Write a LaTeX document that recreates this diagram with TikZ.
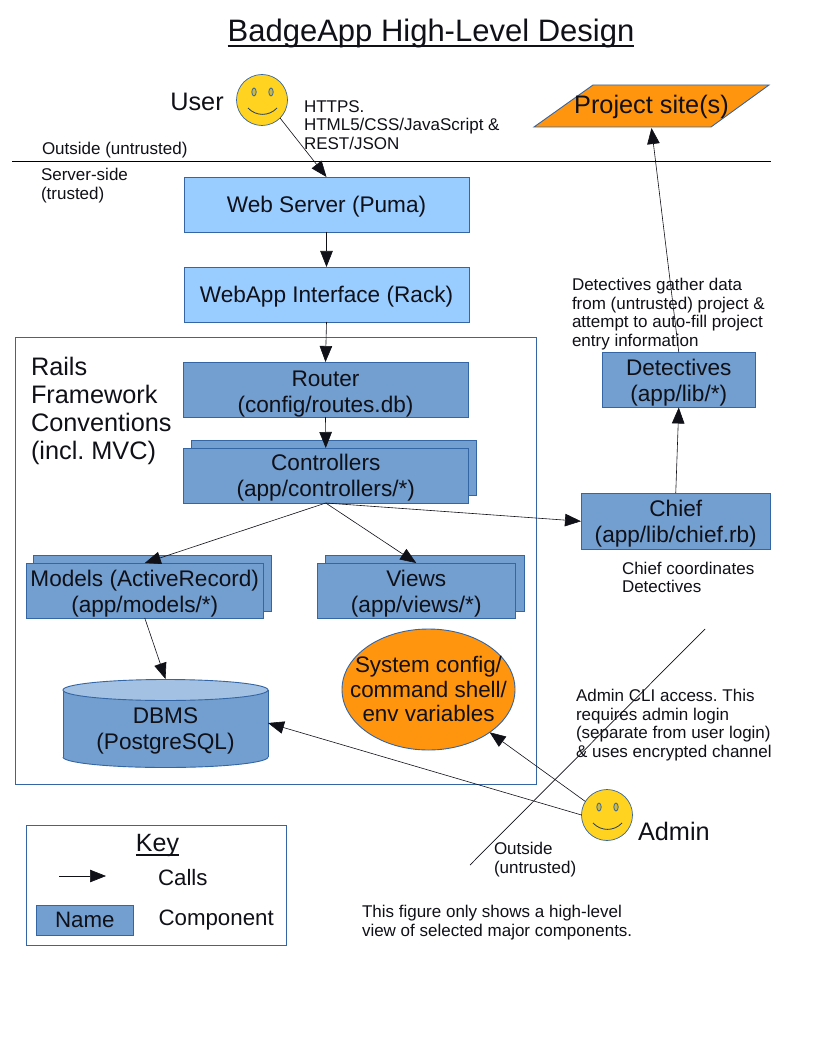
\documentclass[tikz,border=0pt]{standalone}
\usepackage{fontspec}
\setmainfont{Liberation Sans}
\usetikzlibrary{arrows.meta,shapes.geometric}
\definecolor{bd}{HTML}{3465A4}
\definecolor{lb}{HTML}{99CCFF}
\definecolor{mb}{HTML}{729FCF}
\definecolor{cyltop}{HTML}{A3C1E3}
\definecolor{og}{HTML}{FF950E}
\definecolor{yl}{HTML}{FFD320}
\definecolor{ink}{HTML}{101018}
\newcommand{\fsz}[1]{\fontsize{#1}{#1}\selectfont}
\newcommand{\myunder}[3]{\setbox0=\hbox{#1}\rlap{\rule[-#2]{\wd0}{#3}}\box0}
\frenchspacing
\tikzset{
  x=1pt,y=-1pt,
  every node/.style={text=ink,inner sep=0pt,outer sep=0pt},
  bigtext/.style={font=\fontsize{22.6}{26}\selectfont\frenchspacing,align=center},
  lefttext/.style={font=\fontsize{25.3}{28}\selectfont\frenchspacing,align=left,anchor=west},
  smalltext/.style={font=\fontsize{17}{18.7}\selectfont\frenchspacing,align=left,anchor=west},
  lowered/.style={execute at begin node={\rule{0pt}{#1}}},
  boxa/.style={draw=bd,fill=lb,line width=0.9pt,rectangle,bigtext,anchor=north west,lowered=21.5pt},
  boxb/.style={draw=bd,fill=mb,line width=0.9pt,rectangle,bigtext,anchor=north west},
  smiley/.style={circle,draw=bd,fill=yl,line width=0.7pt,minimum size=51pt},
  call/.style={draw=ink,line width=0.6pt,-{Triangle[length=16pt,width=12.5pt]}},
  thin line/.style={draw=ink,line width=0.7pt},
}
\begin{document}
\begin{tikzpicture}
\useasboundingbox[fill=white] (0,0) rectangle (816,1056);

\node[font=\fsz{31},anchor=base] (title) at (431,42) {\myunder{BadgeApp High-Level Design}{5.3pt}{2pt}};

% outer frames
\node[draw=bd,line width=0.9pt,minimum width=521.5pt,minimum height=447.5pt,anchor=north west] (rails) at (15,337) {};
\node[draw=bd,line width=0.9pt,minimum width=260.5pt,minimum height=120.5pt,anchor=north west] (keybox) at (26,825) {};
\coordinate (sepL) at (12,161);
\coordinate (sepR) at (771,161);
\draw[line width=0.8pt,black] (sepL) -- (sepR);
\coordinate (divA) at (705,629);
\coordinate (divB) at (470,865);
\draw[thin line] (divA) -- (divB);

% user
\node[smiley] (user) at (262,100) {};
\draw[bd,line width=0.8pt,fill=yl!75!bd] (254,92) ellipse (2.2 and 4);
\draw[bd,line width=0.8pt,fill=yl!75!bd] (271,92) ellipse (2.2 and 4);
\draw[bd!60!black,line width=0.8pt] (248,108) .. controls (256,116.5) and (269,116.5) .. (277,108);
\node[font=\fsz{25.3}] (userlabel) at (197,102) {User};
\node[smalltext] (https) at (304,125) {HTTPS.\\HTML5/CSS/JavaScript \&\\REST/JSON};

% project
\fill[og] (593,85) -- (769,85) -- (711,127) -- (534,127) -- cycle;
\draw[bd,line width=0.9pt,line join=miter] (593,85) -- (769,85) -- (711,127) -- (534,127) -- cycle;
\node[minimum width=176pt,minimum height=42pt,font=\fsz{25.3}] (project) at (651.5,107) {Project site(s)};

\node[smalltext] (outside) at (42,150) {Outside (untrusted)};
\node[smalltext] (server) at (41,185.5) {Server-side\\(trusted)};

% components
\node[boxa,minimum width=285pt,minimum height=55pt] (web) at (184,177) {Web Server (Puma)};
\node[boxa,minimum width=285pt,minimum height=55pt] (rack) at (184,267) {WebApp Interface (Rack)};
\node[boxb,lowered=50pt,minimum width=285pt,minimum height=55pt] (router) at (183,362) {Router\\(config/routes.db)};
\node[lefttext] (railslabel) at (31,411) {Rails\\Framework\\Conventions\\(incl. MVC)};

\node[boxb,minimum width=285.5pt,minimum height=55pt] (ctrlback) at (191,440) {};
\node[boxb,lowered=46pt,minimum width=285.5pt,minimum height=55pt] (ctrl) at (183,448) {Controllers\\(app/controllers/*)};
\node[boxb,minimum width=238.5pt,minimum height=56pt] (modelback) at (33,555) {};
\node[boxb,lowered=48pt,minimum width=237.5pt,minimum height=55pt] (models) at (26,563) {Models (ActiveRecord)\\(app/models/*)};
\node[boxb,minimum width=199pt,minimum height=56pt] (viewback) at (325,555) {};
\node[boxb,lowered=48pt,minimum width=198.5pt,minimum height=55pt] (views) at (317,563) {Views\\(app/views/*)};

% database
\fill[mb] (63,690) -- (63,757) arc[start angle=180,end angle=360,x radius=102.5,y radius=-10.5] -- (268,690) -- cycle;
\draw[bd,line width=0.9pt] (63,757) -- (63,690);
\draw[bd,line width=0.9pt] (268,690) -- (268,757);
\draw[bd,line width=0.9pt] (63,757) arc[start angle=180,end angle=360,x radius=102.5,y radius=-10.5];
\draw[bd,line width=0.9pt,fill=cyltop] (165.5,690) ellipse (102.5 and 10.5);
\node[bigtext,lowered=57pt,minimum width=205pt,minimum height=88pt] (dbms) at (165.5,723) {DBMS\\(PostgreSQL)};

\node[ellipse,draw=bd,fill=og,line width=0.9pt,minimum width=173pt,minimum height=121pt] (sys) at (428.5,689.5) {};
\node[font=\fontsize{22.4}{24.5}\selectfont,align=center] (systext) at (428.5,689) {System config/\\command shell/\\env variables};

\node[boxb,lowered=48pt,minimum width=153.5pt,minimum height=55.5pt] (detectives) at (602,352) {Detectives\\(app/lib/*)};
\node[boxb,lowered=47pt,minimum width=189.5pt,minimum height=56.5pt] (chief) at (581,493) {Chief\\(app/lib/chief.rb)};
\node[smalltext] (dettext) at (572,314) {Detectives gather data\\from (untrusted) project \&\\attempt to auto-fill project\\entry information};
\node[smalltext] (chieftext) at (622,577.5) {Chief coordinates\\Detectives};
\node[smalltext] (admintext) at (576,725) {Admin CLI access. This\\requires admin login\\(separate from user login)\\\& uses encrypted channel};
\node[smalltext] (outside2) at (494,859.5) {Outside\\(untrusted)};
\node[smalltext] (figure) at (362,922.5) {This figure only shows a high-level\\view of selected major components.};

% admin
\node[smiley] (admin) at (607,815) {};
\draw[bd,line width=0.8pt,fill=yl!75!bd] (599,807) ellipse (2.2 and 4);
\draw[bd,line width=0.8pt,fill=yl!75!bd] (616,807) ellipse (2.2 and 4);
\draw[bd!60!black,line width=0.8pt] (593,823) .. controls (601,831.5) and (614,831.5) .. (622,823);
\node[font=\fsz{25.3},anchor=west] (adminlabel) at (638,831) {Admin};

% key
\node[font=\fsz{25},anchor=base] (keylabel) at (157.5,851) {\myunder{Key}{4.8pt}{1.7pt}};
\coordinate (keyA) at (59,876);
\coordinate (keyB) at (106,876);
\draw[call] (keyA) -- (keyB);
\node[font=\fsz{22.3},anchor=west] (calls) at (158,878) {Calls};
\node[draw=bd,fill=mb,line width=0.9pt,anchor=north west,font=\fsz{22.3},minimum width=97.5pt,minimum height=30.5pt] (name) at (36,905) {Name};
\node[font=\fsz{22.3},anchor=west] (component) at (158.5,920) {Component};

% connectors
\draw[call] (user.-45) -- (web.north);
\draw[call] (web.south) -- (rack.north);
\draw[call] (rack.south) -- (router.north);
\draw[call] (router.south) -- (ctrl.north);
\draw[call] (ctrl.south) -- (models.north);
\draw[call] (ctrl.south) -- (views.north);
\draw[call] (ctrl.south) -- (chief.west);
\draw[call] (models.south) -- (dbms.north);
\draw[call] (chief.north) -- (detectives.south);
\draw[call] (detectives.north) -- (project.south);
\draw[call] (admin.west) -- (dbms.east);
\draw[call] (admin.148) -- (sys.-35);
\end{tikzpicture}
\end{document}
